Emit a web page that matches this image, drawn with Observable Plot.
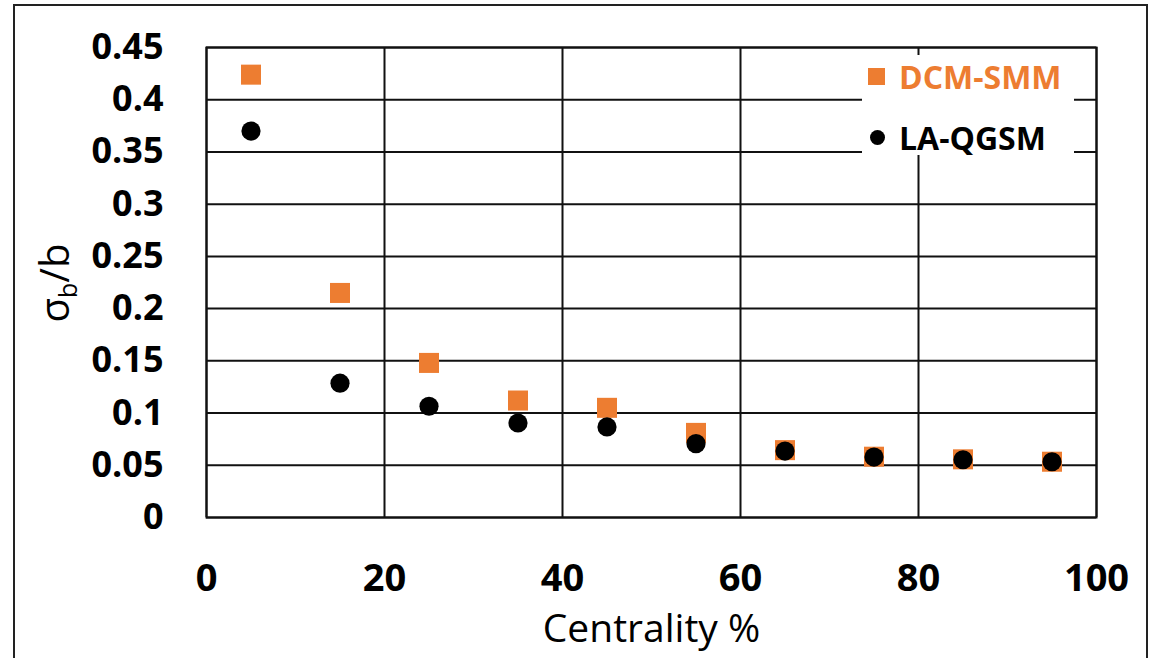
<!DOCTYPE html>
<html><head><meta charset="utf-8">
<script src="https://cdn.jsdelivr.net/npm/d3@7"></script>
<script src="https://cdn.jsdelivr.net/npm/@observablehq/plot@0.6"></script>
<style>
body{margin:0;background:#fff;overflow:hidden;}
#wrap{position:relative;width:1150px;height:658px;overflow:hidden;}
#chart{position:absolute;left:0;top:0;}
#frame{position:absolute;left:13px;top:4px;width:1135px;height:720px;border:2px solid #222;box-sizing:border-box;pointer-events:none;}
#ylab{position:absolute;left:55px;top:283px;transform:translate(-50%,-50%) rotate(-90deg);font-family:"Open Sans",sans-serif;font-size:40px;white-space:nowrap;color:#000;}
#ylab sub{font-size:0.62em;vertical-align:-0.3em;}
#legend{position:absolute;left:862px;top:55px;width:212px;height:100px;background:#fff;font-family:"Open Sans",sans-serif;font-weight:bold;font-size:32px;}
.row{position:absolute;left:0;height:44px;display:flex;align-items:center;}
.sym{position:absolute;}
.lab{position:absolute;left:37px;white-space:nowrap;line-height:44px;top:0;}
</style></head><body>
<div id="wrap"><div id="chart"></div><div id="ylab">σ<sub>b</sub>/b</div><div id="legend"></div><div id="frame"></div></div>
<script>
const centrality = [5, 15, 25, 35, 45, 55, 65, 75, 85, 95];
const dcmSmm = [0.424, 0.215, 0.148, 0.112, 0.105, 0.081, 0.0645, 0.0582, 0.0557, 0.0534];
const laQgsm = [0.370, 0.1286, 0.1065, 0.0905, 0.0867, 0.0707, 0.0636, 0.0579, 0.0553, 0.0534];
const yTicks = [0, 0.05, 0.1, 0.15, 0.2, 0.25, 0.3, 0.35, 0.4, 0.45];
const xTicks = [0, 20, 40, 60, 80, 100];
const seriesNames = ["DCM-SMM", "LA-QGSM"];
const seriesColors = ["#ED7D31", "#000000"];
const xTitle = "Centrality %";

const dcmData = centrality.map((c, i) => ({c, v: dcmSmm[i]}));
const laqData = centrality.map((c, i) => ({c, v: laQgsm[i]}));

const chart = Plot.plot({
  width: 1150, height: 658,
  marginLeft: 206, marginRight: 54, marginTop: 47, marginBottom: 141,
  x: {domain: [0, 100]},
  y: {domain: [0, 0.45]},
  style: {fontFamily: "'Open Sans', sans-serif", color: "#000", background: "transparent"},
  marks: [
    Plot.gridY(yTicks, {stroke: "#111", strokeOpacity: 1, strokeWidth: 2}),
    Plot.gridX(xTicks, {stroke: "#111", strokeOpacity: 1, strokeWidth: 2}),
    Plot.frame({stroke: "#111", strokeWidth: 2}),
    Plot.axisY(yTicks, {tickSize: 0, tickPadding: 43, fontSize: 36, fontWeight: "bold", label: null,
      tickFormat: d => String(+d.toFixed(2))}),
    Plot.axisX(xTicks, {tickSize: 0, tickPadding: 47, fontSize: 38, fontWeight: "bold", label: null}),
    Plot.dot(dcmData, {x: "c", y: "v", symbol: "square", fill: seriesColors[0], r: 11.3}),
    Plot.dot(laqData, {x: "c", y: "v", symbol: "circle", fill: seriesColors[1], r: 9.6}),
    Plot.text([xTitle], {frameAnchor: "bottom", dy: 112, fontSize: 39, lineAnchor: "middle", fill: "#000"})
  ]
});
document.getElementById("chart").appendChild(chart);

const legend = document.getElementById("legend");
const rowCenters = [22, 83];
seriesNames.forEach((name, i) => {
  const row = document.createElement("div");
  row.className = "row";
  row.style.top = (rowCenters[i] - 22) + "px";
  row.style.width = "212px";
  const sym = document.createElement("div");
  sym.className = "sym";
  if (i === 0) {
    sym.style.cssText = `left:6px;top:13px;width:17px;height:17px;background:${seriesColors[i]};`;
  } else {
    sym.style.cssText = `left:8px;top:14px;width:15px;height:15px;border-radius:50%;background:${seriesColors[i]};`;
  }
  const lab = document.createElement("div");
  lab.className = "lab";
  lab.textContent = name;
  lab.style.color = seriesColors[i];
  row.appendChild(sym);
  row.appendChild(lab);
  legend.appendChild(row);
});
</script>
</body></html>
